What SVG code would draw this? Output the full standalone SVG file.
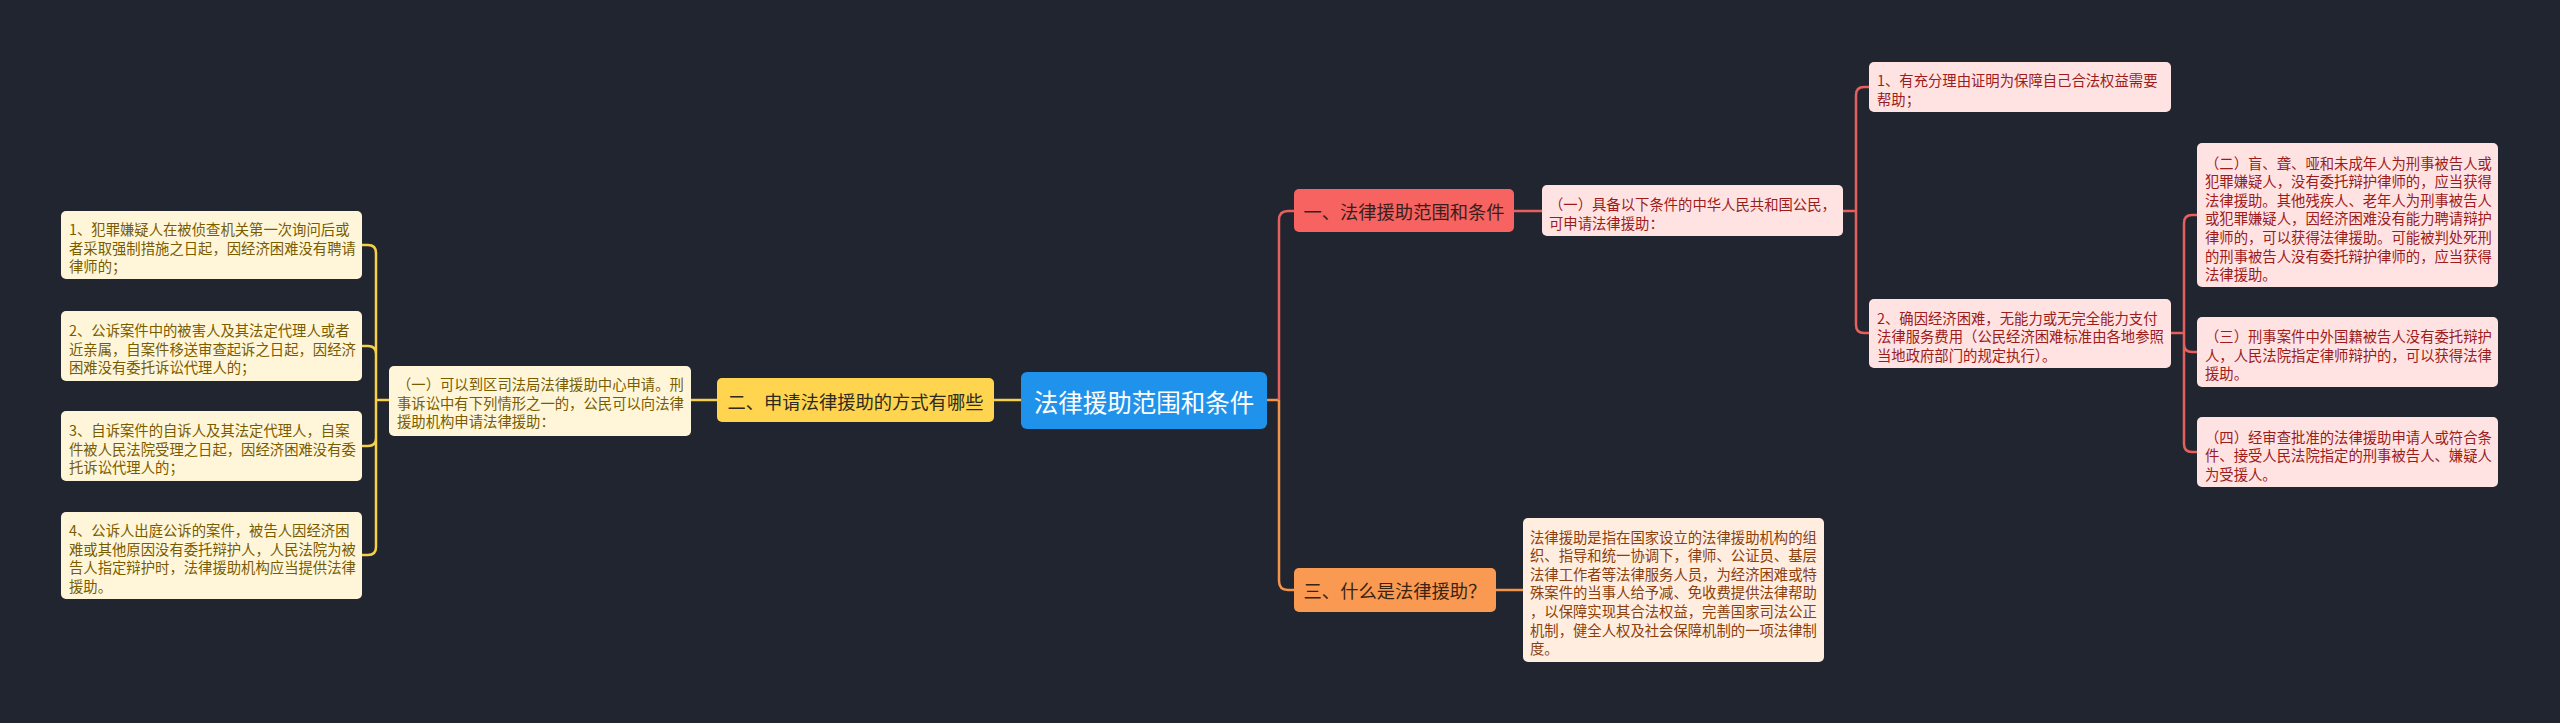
<svg xmlns="http://www.w3.org/2000/svg" width="2560" height="723" viewBox="0 0 2560 723">
<style>
.t{font-family:"Noto Sans CJK SC","Noto Sans",sans-serif;dominant-baseline:central}
.leaf{font-size:14.35px}
.lv1{font-size:18.3px;text-anchor:middle}
.cy{fill:#7a5c00}
.cr{fill:#9c1b1b}
.co{fill:#8c3f0c}
.by{fill:#FFF6DA}
.br{fill:#FFE3E3}
.bo{fill:#FFEDE0}
.ly{fill:none;stroke:#F5D04A;stroke-width:2.5}
.lr{fill:none;stroke:#E5605E;stroke-width:2.5}
.lo{fill:none;stroke:#F4934A;stroke-width:2.5}
</style>
<rect width="2560" height="723" fill="#21252f"/>
<g id="connectors">
<path class="ly" d="M1021,400H994M717,400H690M389,400H376"/>
<path class="ly" d="M376,400V253Q376,245 368,245H362M376,400V354Q376,346 368,346H362M376,400V438Q376,446 368,446H362M376,400V547Q376,555 368,555H362"/>
<path class="lo" d="M1267,400H1279"/>
<path class="lr" d="M1279,400V220Q1279,211 1288,211H1294M1514,211H1542M1843,211H1856"/>
<path class="lr" d="M1856,211V95Q1856,87 1864,87H1869M1856,211V325Q1856,333 1864,333H1869M2171,333H2184"/>
<path class="lr" d="M2184,333V223Q2184,215 2192,215H2197M2184,333V344Q2184,352 2192,352H2197M2184,333V444Q2184,452 2192,452H2197"/>
<path class="lo" d="M1279,400V581Q1279,590 1288,590H1294M1496,590H1523"/>
</g>
<g id="root">
<rect x="1021" y="372" width="246" height="57" rx="6" fill="#1F93EC"/>
<text class="t" x="1144" y="401" font-size="24.5" text-anchor="middle" fill="#ffffff">法律援助范围和条件</text>
</g>
<g id="n2">
<rect x="717" y="378" width="277" height="44" rx="5" fill="#FFD54F"/>
<text class="t lv1" x="855.5" y="401" fill="#2e2a20">二、申请法律援助的方式有哪些</text>
</g>
<g id="n2-1">
<rect x="389" y="366" width="302" height="70" rx="5" class="by"/>
<text class="t leaf cy" x="397"><tspan x="397" y="383">（一）可以到区司法局法律援助中心申请。刑</tspan><tspan x="397" y="401.6">事诉讼中有下列情形之一的，公民可以向法律</tspan><tspan x="397" y="420.2">援助机构申请法律援助：</tspan></text>
</g>
<g id="n2-1-1">
<rect x="61" y="211" width="301" height="68" rx="5" class="by"/>
<text class="t leaf cy"><tspan x="69" y="228">1、犯罪嫌疑人在被侦查机关第一次询问后或</tspan><tspan x="69" y="246.6">者采取强制措施之日起，因经济困难没有聘请</tspan><tspan x="69" y="265.2">律师的；</tspan></text>
</g>
<g id="n2-1-2">
<rect x="61" y="311" width="301" height="70" rx="5" class="by"/>
<text class="t leaf cy"><tspan x="69" y="329">2、公诉案件中的被害人及其法定代理人或者</tspan><tspan x="69" y="347.6">近亲属，自案件移送审查起诉之日起，因经济</tspan><tspan x="69" y="366.2">困难没有委托诉讼代理人的；</tspan></text>
</g>
<g id="n2-1-3">
<rect x="61" y="411" width="301" height="70" rx="5" class="by"/>
<text class="t leaf cy"><tspan x="69" y="429">3、自诉案件的自诉人及其法定代理人，自案</tspan><tspan x="69" y="447.6">件被人民法院受理之日起，因经济困难没有委</tspan><tspan x="69" y="466.2">托诉讼代理人的；</tspan></text>
</g>
<g id="n2-1-4">
<rect x="61" y="512" width="301" height="87" rx="5" class="by"/>
<text class="t leaf cy"><tspan x="69" y="529">4、公诉人出庭公诉的案件，被告人因经济困</tspan><tspan x="69" y="547.6">难或其他原因没有委托辩护人，人民法院为被</tspan><tspan x="69" y="566.2">告人指定辩护时，法律援助机构应当提供法律</tspan><tspan x="69" y="584.8">援助。</tspan></text>
</g>
<g id="n1">
<rect x="1294" y="189" width="220" height="43" rx="5" fill="#F66360"/>
<text class="t lv1" x="1404" y="211" fill="#3a1e1e">一、法律援助范围和条件</text>
</g>
<g id="n1-1">
<rect x="1542" y="185" width="301" height="51" rx="5" class="br"/>
<text class="t leaf cr"><tspan x="1549" y="203">（一）具备以下条件的中华人民共和国公民，</tspan><tspan x="1549" y="221.6">可申请法律援助：</tspan></text>
</g>
<g id="n1-1-1">
<rect x="1869" y="62" width="302" height="50" rx="5" class="br"/>
<text class="t leaf cr"><tspan x="1877" y="79">1、有充分理由证明为保障自己合法权益需要</tspan><tspan x="1877" y="97.6">帮助；</tspan></text>
</g>
<g id="n1-1-2">
<rect x="1869" y="299" width="302" height="69" rx="5" class="br"/>
<text class="t leaf cr"><tspan x="1877" y="316.5">2、确因经济困难，无能力或无完全能力支付</tspan><tspan x="1877" y="335.1">法律服务费用（公民经济困难标准由各地参照</tspan><tspan x="1877" y="353.7">当地政府部门的规定执行）。</tspan></text>
</g>
<g id="n1-1-2-1">
<rect x="2197" y="143" width="301" height="144" rx="5" class="br"/>
<text class="t leaf cr"><tspan x="2205" y="161.5">（二）盲、聋、哑和未成年人为刑事被告人或</tspan><tspan x="2205" y="180.1">犯罪嫌疑人，没有委托辩护律师的，应当获得</tspan><tspan x="2205" y="198.7">法律援助。其他残疾人、老年人为刑事被告人</tspan><tspan x="2205" y="217.3">或犯罪嫌疑人，因经济困难没有能力聘请辩护</tspan><tspan x="2205" y="235.9">律师的，可以获得法律援助。可能被判处死刑</tspan><tspan x="2205" y="254.5">的刑事被告人没有委托辩护律师的，应当获得</tspan><tspan x="2205" y="273.1">法律援助。</tspan></text>
</g>
<g id="n1-1-2-2">
<rect x="2197" y="317" width="301" height="70" rx="5" class="br"/>
<text class="t leaf cr"><tspan x="2205" y="335">（三）刑事案件中外国籍被告人没有委托辩护</tspan><tspan x="2205" y="353.6">人，人民法院指定律师辩护的，可以获得法律</tspan><tspan x="2205" y="372.2">援助。</tspan></text>
</g>
<g id="n1-1-2-3">
<rect x="2197" y="417" width="301" height="70" rx="5" class="br"/>
<text class="t leaf cr"><tspan x="2205" y="435.5">（四）经审查批准的法律援助申请人或符合条</tspan><tspan x="2205" y="454.1">件、接受人民法院指定的刑事被告人、嫌疑人</tspan><tspan x="2205" y="472.7">为受援人。</tspan></text>
</g>
<g id="n3">
<rect x="1294" y="568" width="202" height="44" rx="5" fill="#FA9A52"/>
<text class="t lv1" x="1395" y="590" fill="#3a2410">三、什么是法律援助？</text>
</g>
<g id="n3-1">
<rect x="1523" y="518" width="301" height="144" rx="5" class="bo"/>
<text class="t leaf co"><tspan x="1530" y="535.5">法律援助是指在国家设立的法律援助机构的组</tspan><tspan x="1530" y="554.1">织、指导和统一协调下，律师、公证员、基层</tspan><tspan x="1530" y="572.7">法律工作者等法律服务人员，为经济困难或特</tspan><tspan x="1530" y="591.3">殊案件的当事人给予减、免收费提供法律帮助</tspan><tspan x="1530" y="609.9">，以保障实现其合法权益，完善国家司法公正</tspan><tspan x="1530" y="628.5">机制，健全人权及社会保障机制的一项法律制</tspan><tspan x="1530" y="647.1">度。</tspan></text>
</g>
</svg>
